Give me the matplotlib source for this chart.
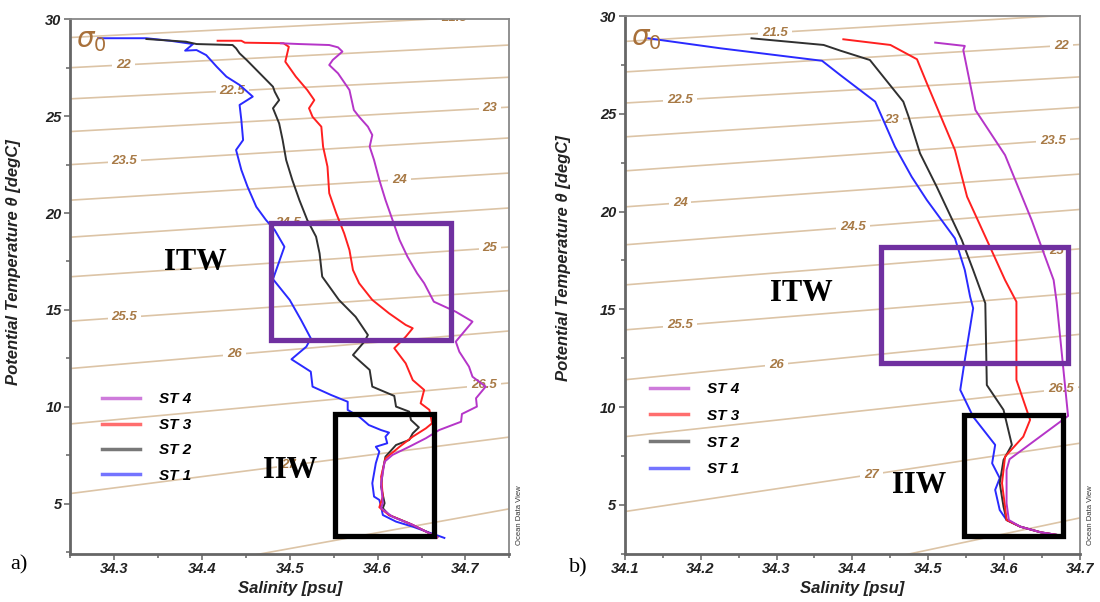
import numpy as np
import matplotlib
matplotlib.use('Agg')
import matplotlib.pyplot as plt
from matplotlib.patches import Rectangle
from matplotlib.ticker import MultipleLocator

plt.rcParams['font.family'] = ['Liberation Sans', 'DejaVu Sans']

# sigma-0 isopycnals: potential temperature at S=34.1 and S=34.75
sig_levels = [21.5, 22, 22.5, 23, 23.5, 24, 24.5, 25, 25.5, 26, 26.5, 27, 27.5]
sig_S_ends = [34.1, 34.75]
sig_T_lo = [28.7, 27.14, 25.55, 23.82, 22.08, 20.24, 18.3, 16.25, 13.95, 11.4, 8.49, 4.66, -0.58]
sig_T_hi = [30.2, 28.66, 27.0, 25.46, 23.87, 22.06, 20.26, 18.25, 16.0, 13.92, 11.24, 8.45, 4.75]

# where the contour labels sit (salinity), one per level 21.5 .. 27
a_lab_S = [34.687, 34.311, 34.435, 34.728, 34.312, 34.625, 34.498, 34.728, 34.312, 34.437, 34.721, 34.499]
b_lab_S = [34.298, 34.675, 34.173, 34.452, 34.664, 34.173, 34.401, 34.669, 34.173, 34.300, 34.675, 34.425]

stations = ['ST 1', 'ST 2', 'ST 3', 'ST 4']
st_colors = ['#2a2aff', '#303030', '#ff2020', '#b535c8']

# panel a) profiles
a_st1_S = [34.282, 34.337, 34.364, 34.390, 34.381, 34.394, 34.405, 34.417, 34.428, 34.443, 34.458, 34.443,
           34.445, 34.447, 34.439, 34.445, 34.452, 34.462, 34.473, 34.483, 34.494, 34.481, 34.500, 34.513,
           34.524, 34.519, 34.502, 34.524, 34.526, 34.547, 34.566, 34.566, 34.579, 34.590, 34.604, 34.613,
           34.609, 34.611, 34.598, 34.602, 34.598, 34.594, 34.596, 34.602, 34.604, 34.606, 34.621, 34.640, 34.676]
a_st1_T = [29.01, 29.01, 28.88, 28.71, 28.37, 28.40, 28.14, 27.54, 27.03, 26.60, 26.00, 25.57,
           24.79, 23.76, 23.25, 22.22, 21.36, 20.32, 19.64, 19.12, 18.26, 16.59, 15.52, 14.48,
           13.54, 13.11, 12.46, 11.82, 11.05, 10.62, 10.27, 9.85, 9.50, 9.07, 8.81, 8.68,
           8.47, 8.13, 7.95, 7.70, 7.10, 6.07, 5.38, 5.21, 4.86, 4.43, 4.09, 3.83, 3.25]

a_st2_S = [34.337, 34.382, 34.394, 34.435, 34.439, 34.443, 34.451, 34.466, 34.481, 34.483, 34.488, 34.481,
           34.488, 34.492, 34.496, 34.503, 34.511, 34.520, 34.530, 34.534, 34.537, 34.556, 34.575, 34.589,
           34.585, 34.572, 34.591, 34.594, 34.619, 34.621, 34.636, 34.638, 34.647, 34.640, 34.636, 34.621,
           34.609, 34.606, 34.604, 34.608, 34.606, 34.613, 34.636, 34.668]
a_st2_T = [28.97, 28.83, 28.71, 28.66, 28.49, 28.23, 27.89, 27.20, 26.51, 26.25, 25.82, 25.40,
           24.62, 23.76, 22.73, 21.70, 20.67, 19.64, 18.78, 17.92, 16.72, 15.52, 14.65, 13.71,
           13.37, 12.68, 11.91, 11.05, 10.57, 10.02, 9.76, 9.33, 8.95, 8.64, 8.30, 8.04,
           7.44, 6.75, 5.89, 5.04, 4.78, 4.43, 4.00, 3.30]

a_st3_S = [34.418, 34.445, 34.449, 34.493, 34.499, 34.495, 34.507, 34.520, 34.528, 34.522, 34.526, 34.536,
           34.538, 34.543, 34.545, 34.553, 34.562, 34.568, 34.572, 34.579, 34.594, 34.613, 34.632, 34.640,
           34.632, 34.619, 34.632, 34.640, 34.653, 34.649, 34.659, 34.662, 34.655, 34.640, 34.625, 34.609,
           34.604, 34.606, 34.602, 34.613, 34.640, 34.668]
a_st3_T = [28.88, 28.88, 28.78, 28.75, 28.57, 27.80, 27.03, 26.34, 25.82, 25.40, 24.96, 24.45,
           23.42, 22.39, 21.02, 19.98, 18.95, 18.09, 17.06, 16.38, 15.52, 14.83, 14.23, 14.06,
           13.62, 13.03, 12.25, 11.39, 10.88, 10.19, 9.85, 9.16, 8.90, 8.47, 7.95, 7.35,
           6.41, 5.38, 4.83, 4.43, 3.92, 3.28]

a_st4_S = [34.490, 34.511, 34.545, 34.555, 34.560, 34.549, 34.545, 34.555, 34.568, 34.573, 34.579, 34.589,
           34.594, 34.591, 34.596, 34.602, 34.609, 34.617, 34.625, 34.634, 34.645, 34.653, 34.664, 34.689,
           34.708, 34.689, 34.693, 34.704, 34.708, 34.723, 34.712, 34.713, 34.696, 34.695, 34.670, 34.655,
           34.636, 34.617, 34.608, 34.604, 34.606, 34.604, 34.617, 34.640, 34.668]
a_st4_T = [28.75, 28.71, 28.66, 28.54, 28.32, 27.89, 27.63, 27.20, 26.34, 25.31, 24.96, 24.45,
           24.02, 23.42, 22.73, 21.70, 20.67, 19.64, 18.61, 17.75, 16.89, 16.38, 15.43, 14.91,
           14.40, 13.37, 12.85, 12.08, 11.56, 11.05, 10.45, 10.02, 9.64, 9.24, 8.81, 8.39,
           7.95, 7.53, 7.18, 6.07, 5.04, 4.78, 4.34, 3.92, 3.28]

# panel b) profiles
b_st1_S = [34.131, 34.226, 34.360, 34.384, 34.430, 34.456, 34.478, 34.498, 34.535, 34.548, 34.555, 34.559,
           34.548, 34.542, 34.559, 34.588, 34.584, 34.594, 34.588, 34.594, 34.603, 34.621, 34.648, 34.669]
b_st1_T = [28.86, 28.35, 27.71, 26.98, 25.62, 23.32, 21.78, 20.59, 18.63, 17.01, 15.65, 15.06,
           12.41, 10.88, 9.51, 8.07, 7.13, 6.37, 5.77, 4.74, 4.23, 3.89, 3.60, 3.47]

b_st2_S = [34.267, 34.362, 34.384, 34.423, 34.467, 34.474, 34.489, 34.511, 34.544, 34.559, 34.575, 34.577,
           34.599, 34.610, 34.599, 34.594, 34.599, 34.603, 34.621, 34.648, 34.669]
b_st2_T = [28.86, 28.52, 28.23, 27.75, 25.62, 24.85, 22.98, 21.27, 18.55, 17.01, 15.31, 11.13,
           9.86, 8.07, 7.30, 6.11, 4.91, 4.23, 3.89, 3.60, 3.47]

b_st3_S = [34.388, 34.450, 34.485, 34.498, 34.535, 34.551, 34.581, 34.601, 34.616, 34.616, 34.634, 34.625,
           34.601, 34.597, 34.601, 34.603, 34.621, 34.648, 34.669]
b_st3_T = [28.81, 28.52, 27.79, 26.56, 23.15, 20.76, 18.21, 16.50, 15.39, 11.39, 9.35, 8.49,
           7.47, 6.11, 4.91, 4.23, 3.89, 3.60, 3.47]

b_st4_S = [34.509, 34.548, 34.546, 34.562, 34.601, 34.636, 34.665, 34.669, 34.684, 34.607, 34.603, 34.603,
           34.606, 34.621, 34.648, 34.669]
b_st4_T = [28.64, 28.47, 28.26, 25.19, 22.89, 19.57, 16.50, 15.37, 9.55, 7.34, 6.79, 5.09,
           4.23, 3.89, 3.60, 3.47]

# water-mass boxes [S_min, S_max, T_min, T_max]
a_itw_box = [34.479, 34.684, 13.45, 19.47]
a_iiw_box = [34.552, 34.664, 3.35, 9.64]
b_itw_box = [34.438, 34.684, 12.27, 18.20]
b_iiw_box = [34.547, 34.678, 3.42, 9.60]

ISO_LINE = '#dcc4a6'
ISO_TEXT = '#a87a46'


def panel(ax, profiles, xlim, ylim, lab_S, itw_box, iiw_box, itw_xy, iiw_xy, leg_anchor, leg_space):
    for lo, hi in zip(sig_T_lo, sig_T_hi):
        ax.plot(sig_S_ends, [lo, hi], color=ISO_LINE, lw=1.2, zorder=1)
    for lvl, s, lo, hi in zip(sig_levels, lab_S, sig_T_lo, sig_T_hi):
        t = np.interp(s, sig_S_ends, [lo, hi])
        ax.text(s, t, f'{lvl:g}', color=ISO_TEXT, fontsize=9.5, fontweight='bold', fontstyle='italic',
                ha='center', va='center', zorder=2, clip_on=True,
                bbox=dict(boxstyle='square,pad=0.3', fc='white', ec='none'))

    lines = []
    for (S, T), c, name in zip(profiles, st_colors, stations):
        ln, = ax.plot(S, T, color=c, lw=1.4, zorder=3, label=name)
        lines.append(ln)

    for box, c in [(itw_box, '#7030a0'), (iiw_box, '#000000')]:
        ax.add_patch(Rectangle((box[0], box[2]), box[1] - box[0], box[3] - box[2],
                               fill=False, ec=c, lw=3.8, zorder=4))
    ax.text(*itw_xy, 'ITW', family='Liberation Serif', fontweight='bold', fontsize=22,
            ha='center', va='center', zorder=5)
    ax.text(*iiw_xy, 'IIW', family='Liberation Serif', fontweight='bold', fontsize=22,
            ha='center', va='center', zorder=5)

    leg = ax.legend(handles=lines[::-1], loc='upper left', bbox_to_anchor=leg_anchor,
                    frameon=False, borderpad=0, borderaxespad=0, handlelength=2.5,
                    handletextpad=1.25, labelspacing=leg_space,
                    prop=dict(family='Liberation Sans', weight='bold', style='italic', size=11))
    for l in leg.get_lines():
        l.set_linewidth(2.5)
        l.set_alpha(0.65)

    ax.text(0.048, 0.958, r'$\sigma_0$', transform=ax.transAxes, color='#a8703a', fontsize=20,
            ha='center', va='center', zorder=5)
    ax.text(1.022, 0.072, 'Ocean Data View', transform=ax.transAxes, rotation=90, fontsize=5.5,
            color='#333333', ha='center', va='center')

    ax.set_xlim(*xlim)
    ax.set_ylim(*ylim)
    ax.xaxis.set_major_locator(MultipleLocator(0.1))
    ax.xaxis.set_minor_locator(MultipleLocator(0.05))
    ax.yaxis.set_major_locator(MultipleLocator(5))
    ax.yaxis.set_minor_locator(MultipleLocator(2.5))
    ax.tick_params(which='both', direction='out', color='#707070', width=1.2, pad=2,
                   labelsize=10.5, labelcolor='#222222')
    ax.tick_params(which='major', length=4)
    ax.tick_params(which='minor', length=3)
    for lab in ax.get_xticklabels() + ax.get_yticklabels():
        lab.set_fontweight('bold')
        lab.set_fontstyle('italic')
    for side in ['left', 'bottom']:
        ax.spines[side].set_color('#666666')
        ax.spines[side].set_linewidth(2.0)
    for side in ['top', 'right']:
        ax.spines[side].set_color('#888888')
        ax.spines[side].set_linewidth(1.3)
    ax.set_xlabel('Salinity [psu]', fontsize=12, fontweight='bold', fontstyle='italic',
                  color='#222222', labelpad=3)
    ax.set_ylabel('Potential Temperature θ [degC]', fontsize=12, fontweight='bold',
                  fontstyle='italic', color='#222222')


fig = plt.figure(figsize=(11, 6.02), dpi=100)
ax_a = fig.add_axes([0.0636, 0.0797, 0.3995, 0.8887])
ax_b = fig.add_axes([0.5679, 0.0797, 0.4141, 0.8937])

panel(ax_a, [(a_st1_S, a_st1_T), (a_st2_S, a_st2_T), (a_st3_S, a_st3_T), (a_st4_S, a_st4_T)],
      (34.25, 34.75), (2.42, 30), a_lab_S, a_itw_box, a_iiw_box,
      (34.393, 17.47), (34.501, 6.75), (0.072, 0.302), 0.75)
panel(ax_b, [(b_st1_S, b_st1_T), (b_st2_S, b_st2_T), (b_st3_S, b_st3_T), (b_st4_S, b_st4_T)],
      (34.1, 34.7), (2.49, 30), b_lab_S, b_itw_box, b_iiw_box,
      (34.333, 15.82), (34.488, 5.97), (0.055, 0.32), 0.84)

ax_a.yaxis.set_label_coords(-0.111, 0.545)
ax_b.yaxis.set_label_coords(-0.118, 0.55)

fig.text(0.0095, 0.062, 'a)', family='Liberation Serif', fontsize=16, ha='left', va='center')
fig.text(0.517, 0.056, 'b)', family='Liberation Serif', fontsize=16, ha='left', va='center')

fig.savefig('out.png', dpi=100)
